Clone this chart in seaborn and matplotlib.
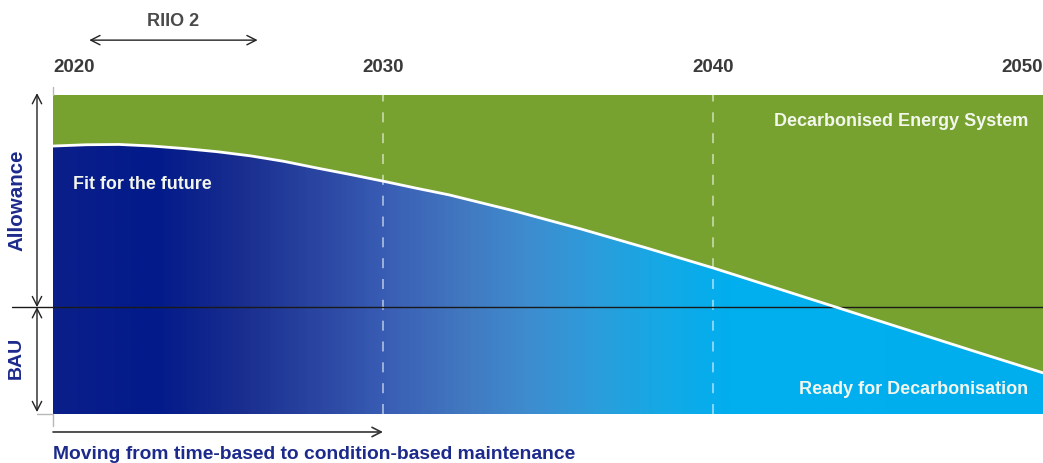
# diagram: allowance vs BAU moving to decarbonised energy system 2020-2050

import numpy as np
import pandas as pd
import seaborn as sns
import matplotlib.pyplot as plt
from matplotlib.colors import LinearSegmentedColormap

# curve between "fit for the future" (blue) and "decarbonised energy system" (green)
years = [2020, 2021, 2022, 2023, 2024, 2025, 2026, 2027, 2028, 2029, 2030,
         2031, 2032, 2034, 2036, 2038, 2040, 2042, 2044, 2046, 2048, 2050]
values = [84.0, 84.4, 84.5, 84.0, 83.2, 82.2, 80.9, 79.2, 77.1, 75.1, 73.0,
          70.8, 68.7, 63.6, 58.0, 52.0, 45.8, 39.2, 32.6, 26.0, 19.4, 12.9]

year_ticks = [2020, 2030, 2040, 2050]
decade_lines = [2030, 2040]
bau_level = 33.5           # split between BAU and allowance
riio2 = [2021.1, 2026.2]   # RIIO 2 period
maintenance = [2020, 2030]  # time-based -> condition-based

GREEN = "#77a22f"
NAVY = "#1c2a8c"
TEXT_WHITE = "#f2f6ec"

sns.set_theme(style="white")
plt.rcParams['font.family'] = ['Liberation Sans', 'DejaVu Sans']
plt.rcParams['font.weight'] = 'bold'

fig = plt.figure(figsize=(10.43, 4.64), dpi=100)
ax = fig.add_axes([53 / 1043, 49 / 464, 990 / 1043, 319 / 464])

df = pd.DataFrame({'Year': years, 'Value': values})

# green background
ax.axhspan(0, 100, color=GREEN, zorder=0)

# blue gradient under the curve
grad_stops = [(2020, "#0b1f8a"), (2023, "#021a8a"), (2025.7, "#1a2e90"),
              (2028.4, "#2d4aa5"), (2030.2, "#3a5fb5"), (2032.4, "#4278c0"),
              (2034.4, "#3e8ccf"), (2036.5, "#2c9ddb"), (2038.5, "#14a9e6"),
              (2040.5, "#02aeee"), (2050, "#00aeef")]
cmap = LinearSegmentedColormap.from_list(
    "blues", [((y - 2020) / 30, c) for y, c in grad_stops])
poly = ax.fill_between(df['Year'], 0, df['Value'], facecolor='none', edgecolor='none')
img = ax.imshow(np.linspace(0, 1, 600).reshape(1, -1), cmap=cmap, aspect='auto',
                extent=[2020, 2050, 0, 100], origin='lower', zorder=1)
img.set_clip_path(poly.get_paths()[0], transform=ax.transData)

# decade lines
for x in decade_lines:
    ax.axvline(x, color='white', alpha=0.6, lw=1.2, dashes=(6, 6.5), zorder=2)

# BAU line
ax.plot([2018.76, 2050], [bau_level, bau_level], color='#1a1a1a', lw=1,
        clip_on=False, zorder=3)

# white curve
sns.lineplot(data=df, x='Year', y='Value', color='white', lw=2, ax=ax, zorder=4)

ax.set_xlim(2020, 2050)
ax.set_ylim(0, 100)
ax.set_xticks([])
ax.set_yticks([])
ax.set_xlabel('')
ax.set_ylabel('')
sns.despine(ax=ax, left=True, bottom=True)

# year labels on top
for i, yr in enumerate(year_ticks):
    ha = 'left' if i == 0 else ('right' if i == len(year_ticks) - 1 else 'center')
    ax.text(yr, 108.8, str(yr), ha=ha, va='center', fontsize=13.5,
            color='#3a3a3a', fontweight='bold')

# grey ticks at 2020
ax.plot([2020, 2020], [100, 102.5], color='#b8b8b8', lw=1, clip_on=False)
ax.plot([2020, 2020], [0, -3.8], color='#b8b8b8', lw=1, clip_on=False)
ax.plot([2019.5, 2020], [0, 0], color='#b8b8b8', lw=1, clip_on=False)

# RIIO 2
ax.annotate('', xy=(riio2[0], 117.2), xytext=(riio2[1], 117.2),
            arrowprops=dict(arrowstyle='<->,head_length=0.55,head_width=0.28',
                            color='#222222', lw=1, shrinkA=0, shrinkB=0),
            annotation_clip=False)
ax.text(np.mean(riio2), 123.2, 'RIIO 2', ha='center', va='center',
        fontsize=13, color='#4a4a4a', fontweight='bold')

# left arrows
ax.annotate('', xy=(2019.515, 100.6), xytext=(2019.515, bau_level),
            arrowprops=dict(arrowstyle='<->,head_length=0.55,head_width=0.28',
                            color='#222222', lw=1, shrinkA=0, shrinkB=0),
            annotation_clip=False)
ax.annotate('', xy=(2019.515, bau_level), xytext=(2019.515, 0.6),
            arrowprops=dict(arrowstyle='<->,head_length=0.55,head_width=0.28',
                            color='#222222', lw=1, shrinkA=0, shrinkB=0),
            annotation_clip=False)
ax.text(2018.9, 67.4, 'Allowance', rotation=90, ha='center', va='center',
        fontsize=14.8, color=NAVY, fontweight='bold')
ax.text(2018.9, 17.9, 'BAU', rotation=90, ha='center', va='center',
        fontsize=14, color=NAVY, fontweight='bold')

# labels inside
ax.text(2020.6, 72.4, 'Fit for the future', ha='left', va='center',
        fontsize=12.9, color=TEXT_WHITE, fontweight='bold', zorder=5)
ax.text(2049.55, 91.85, 'Decarbonised Energy System', ha='right', va='center',
        fontsize=13, color=TEXT_WHITE, fontweight='bold', zorder=5)
ax.text(2049.55, 8.15, 'Ready for Decarbonisation', ha='right', va='center',
        fontsize=13, color=TEXT_WHITE, fontweight='bold', zorder=5)

# bottom arrow
ax.annotate('', xy=(maintenance[1], -5.64), xytext=(maintenance[0], -5.64),
            arrowprops=dict(arrowstyle='->,head_length=0.55,head_width=0.28',
                            color='#333333', lw=1.2, shrinkA=0, shrinkB=0),
            annotation_clip=False)
ax.text(2020, -12.5, 'Moving from time-based to condition-based maintenance',
        ha='left', va='center', fontsize=13.9, color=NAVY, fontweight='bold')

plt.savefig('out.png', dpi=100)
